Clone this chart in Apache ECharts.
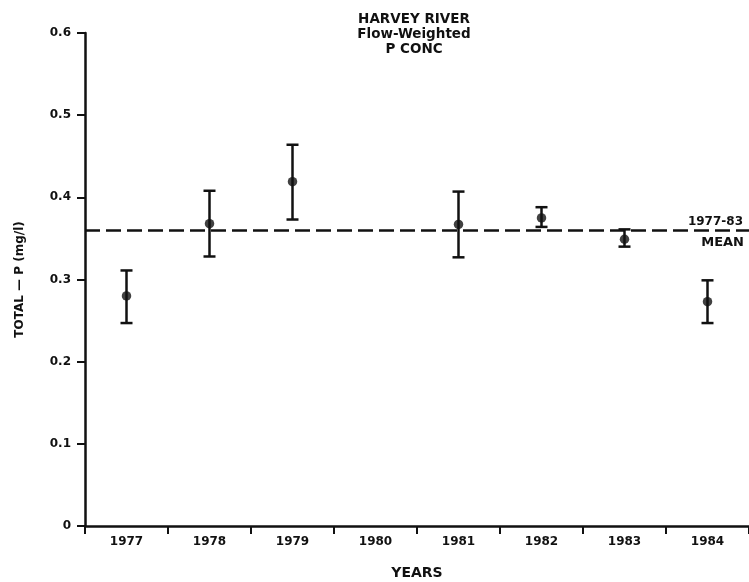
<!DOCTYPE html>
<html>
<head>
<meta charset="utf-8">
<script src="https://cdn.jsdelivr.net/npm/echarts@6/dist/echarts.min.js"></script>
<style>
  html, body { margin: 0; padding: 0; background: #fff; }
  #chart { width: 749px; height: 582px; }
</style>
</head>
<body>
<div id="chart"></div>
<script>
// Harvey River flow-weighted total phosphorus concentration by year (mg/l)
const years = ['1977', '1978', '1979', '1980', '1981', '1982', '1983', '1984'];
const concValue = [0.280, 0.368, 0.419, null, 0.367, 0.375, 0.349, 0.273];
const concHigh  = [0.311, 0.408, 0.464, null, 0.407, 0.388, 0.361, 0.299];
const concLow   = [0.247, 0.328, 0.373, null, 0.327, 0.364, 0.340, 0.247];
const meanValue = 0.362;
const yTicks = [0, 0.1, 0.2, 0.3, 0.4, 0.5, 0.6];

const FONT = 'DejaVu Sans';
const INK = '#111';

const pointData = [];
const barData = [];
years.forEach((y, i) => {
  if (concValue[i] !== null) {
    pointData.push([i, concValue[i]]);
    barData.push([i, concLow[i], concHigh[i]]);
  }
});

const chart = echarts.init(document.getElementById('chart'), null, { renderer: 'canvas' });

chart.setOption({
  backgroundColor: '#fff',
  animation: false,
  title: {
    text: 'HARVEY RIVER\nFlow-Weighted\nP CONC',
    left: 409,
    top: 7,
    textAlign: 'center',
    textStyle: {
      fontFamily: FONT, fontWeight: 'bold', fontSize: 13.5,
      lineHeight: 15, color: INK
    }
  },
  grid: {
    left: 85, right: 0, top: 33, bottom: 56,
    containLabel: false, outerBoundsMode: 'none'
  },
  xAxis: {
    type: 'category',
    data: years,
    boundaryGap: true,
    name: 'YEARS',
    nameLocation: 'middle',
    nameGap: 40,
    nameTextStyle: { fontFamily: FONT, fontWeight: 'bold', fontSize: 14, color: INK },
    axisLine: { lineStyle: { color: INK, width: 2.5 } },
    axisTick: { show: true, length: 8, inside: false, lineStyle: { color: INK, width: 2 } },
    axisLabel: { margin: 10, fontFamily: FONT, fontWeight: 'bold', fontSize: 12, color: INK },
    splitLine: { show: false }
  },
  yAxis: {
    type: 'value',
    min: yTicks[0],
    max: yTicks[yTicks.length - 1],
    interval: 0.1,
    name: 'TOTAL \u2014 P (mg/l)',
    nameLocation: 'middle',
    nameGap: 59,
    nameTextStyle: { fontFamily: FONT, fontWeight: 'bold', fontSize: 12, color: INK },
    axisLine: { show: true, lineStyle: { color: INK, width: 2.5 } },
    axisTick: { show: true, length: 8, lineStyle: { color: INK, width: 2 } },
    axisLabel: {
      margin: 14, fontFamily: FONT, fontWeight: 'bold', fontSize: 12, color: INK,
      formatter: v => String(+v.toFixed(1))
    },
    splitLine: { show: false }
  },
  series: [
    {
      type: 'custom',
      name: 'range',
      data: barData,
      z: 3,
      renderItem: function (params, api) {
        const x = api.value(0);
        const lo = api.coord([x, api.value(1)]);
        const hi = api.coord([x, api.value(2)]);
        const cap = 6;
        const style = { stroke: INK, lineWidth: 2.5, fill: null };
        return {
          type: 'group',
          children: [
            { type: 'line', shape: { x1: lo[0], y1: lo[1], x2: hi[0], y2: hi[1] }, style: style },
            { type: 'line', shape: { x1: hi[0] - cap, y1: hi[1], x2: hi[0] + cap, y2: hi[1] }, style: style },
            { type: 'line', shape: { x1: lo[0] - cap, y1: lo[1], x2: lo[0] + cap, y2: lo[1] }, style: style }
          ]
        };
      }
    },
    {
      type: 'scatter',
      name: 'conc',
      data: pointData,
      symbol: 'circle',
      symbolSize: 9.5,
      z: 4,
      itemStyle: { color: INK },
      markLine: {
        silent: true,
        symbol: 'none',
        animation: false,
        lineStyle: { color: INK, width: 2.5, type: [15, 6] },
        data: [
          {
            yAxis: meanValue,
            label: {
              show: true, position: 'insideEndTop', distance: [6, 2],
              formatter: '1977-83',
              fontFamily: FONT, fontWeight: 'bold', fontSize: 12, color: INK
            }
          },
          {
            yAxis: meanValue,
            lineStyle: { color: 'rgba(0,0,0,0)', width: 0 },
            label: {
              show: true, position: 'insideEndBottom', distance: [5, 6],
              formatter: 'MEAN',
              fontFamily: FONT, fontWeight: 'bold', fontSize: 13, color: INK
            }
          }
        ]
      }
    }
  ]
});
</script>
</body>
</html>
